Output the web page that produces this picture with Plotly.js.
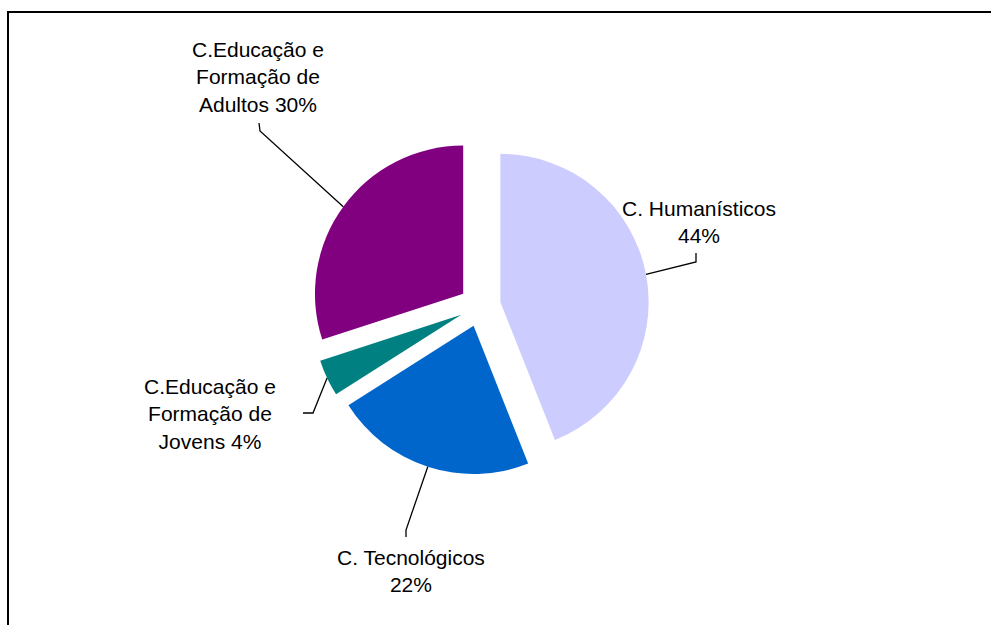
<!DOCTYPE html>
<html><head><meta charset="utf-8">
<script src="https://cdn.plot.ly/plotly-3.0.1.min.js"></script>
<style>
html,body{margin:0;padding:0;background:#fff;overflow:hidden;}
#chart{position:absolute;left:0;top:0;width:991px;height:625px;}
#frame{position:absolute;left:7px;top:11px;width:990px;height:620px;border-top:2px solid #000;border-left:2px solid #000;pointer-events:none;}
</style></head><body>
<div id="chart"></div>
<div id="frame"></div>
<script>
// ---- data ----
const categories = ['C. Humanísticos', 'C. Tecnológicos', 'C.Educação e Formação de Jovens', 'C.Educação e Formação de Adultos'];
const values = [44, 22, 4, 30];
const labelNames = ['C. Humanísticos', 'C. Tecnológicos', 'C.Educação e<br>Formação de<br>Jovens', 'C.Educação e<br>Formação de<br>Adultos'];
const labelSeparators = ['<br>', '<br>', ' ', ' '];
const colors = ['#CCCCFF', '#0066CC', '#008080', '#800080'];

// ---- layout helpers (pixel positions of labels and leader elbows) ----
const W = 991, H = 625;
const labelPos = [[699, 222], [411, 571], [210, 414], [258, 77]];
const elbows = [
  [[696, 262], [696, 253]],
  [[406, 530], [406, 537]],
  [[313, 413], [303, 413]],
  [[260, 131], [259, 123]]
];
const PULL = 0.14;
const cxPx = 480, cyPx = 306, half = 169;

const total = values.reduce((a, b) => a + b, 0);
const texts = values.map((v, i) => labelNames[i] + labelSeparators[i] + Math.round(v / total * 100) + '%');

const trace = {
  type: 'pie',
  labels: categories,
  values: values,
  sort: false,
  direction: 'clockwise',
  rotation: 0,
  pull: values.map(() => PULL),
  marker: {colors: colors, line: {width: 0}},
  textinfo: 'none',
  hoverinfo: 'none',
  showlegend: false,
  domain: {
    x: [(cxPx - half) / W, (cxPx + half) / W],
    y: [(H - cyPx - half) / H, (H - cyPx + half) / H]
  }
};

const annotations = texts.map((t, i) => ({
  xref: 'paper', yref: 'paper',
  x: labelPos[i][0] / W, y: 1 - labelPos[i][1] / H,
  xanchor: 'center', yanchor: 'middle',
  text: t, showarrow: false, align: 'center',
  font: {family: 'Liberation Sans, Arial, sans-serif', size: 21, color: '#000'}
}));

const layout = {
  width: W, height: H,
  margin: {l: 0, r: 0, t: 0, b: 0},
  paper_bgcolor: '#fff', plot_bgcolor: '#fff',
  showlegend: false,
  annotations: annotations
};

const gd = document.getElementById('chart');
Plotly.newPlot(gd, [trace], layout, {staticPlot: true}).then(() => {
  const cd0 = gd.calcdata[0][0];
  const cx = cd0.cx, cy = cd0.cy, r = cd0.r;
  let cum = 0;
  const shapes = values.map((v, i) => {
    const mid = (cum + v / 2) / total * 2 * Math.PI;
    cum += v;
    const ax = cx + r * (1 + PULL) * Math.sin(mid);
    const ay = cy - r * (1 + PULL) * Math.cos(mid);
    const pts = [[ax, ay]].concat(elbows[i]);
    const path = pts.map((p, k) => (k ? 'L' : 'M') + (p[0] / W) + ',' + (1 - p[1] / H)).join(' ');
    return {type: 'path', xref: 'paper', yref: 'paper', path: path, line: {color: '#000', width: 1.3}};
  });
  return Plotly.relayout(gd, {shapes: shapes});
});
</script>
</body></html>
